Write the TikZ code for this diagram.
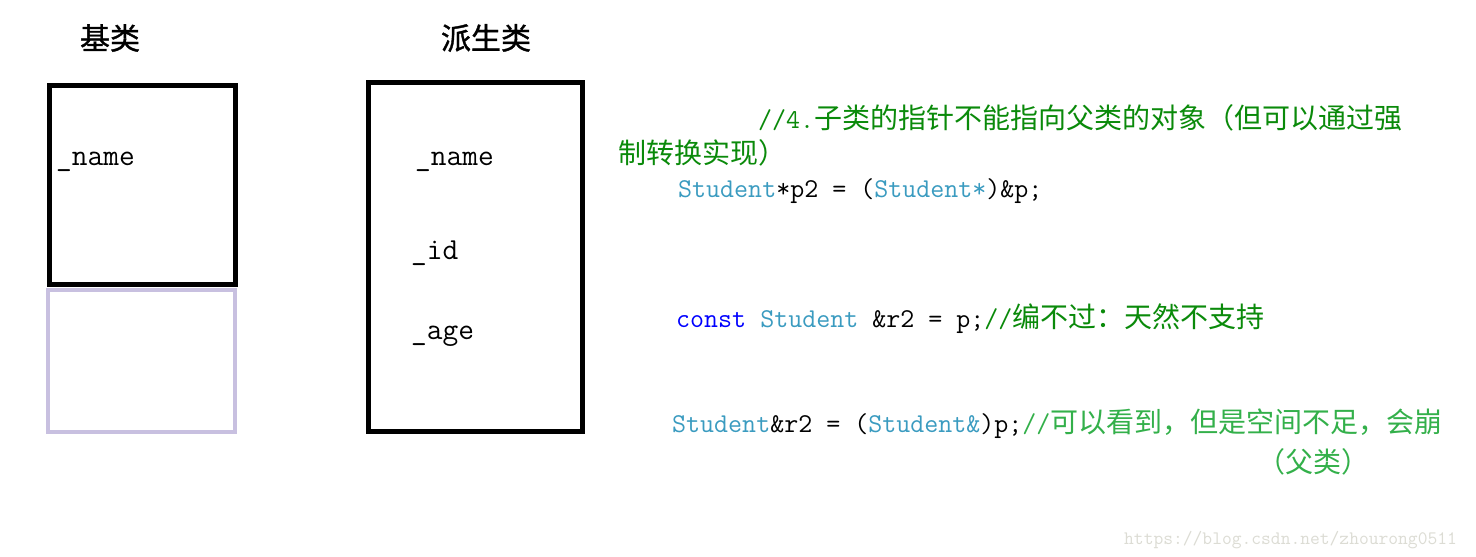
\documentclass[tikz,border=0pt]{standalone}
\usepackage{fontspec}
\newfontfamily\cjk{Noto Sans CJK SC}
\newfontfamily\cjkbold[FakeBold=1.2]{Noto Sans CJK SC}
\definecolor{cmtdark}{HTML}{0A8A0A}
\definecolor{cmtlight}{HTML}{33B04A}
\definecolor{cls}{HTML}{3A9BC0}
\definecolor{kw}{HTML}{0000FF}
\definecolor{lav}{HTML}{C8C0E0}
\definecolor{wm}{HTML}{DCDCD4}
\newcommand{\codef}{\ttfamily\fontsize{27.2}{30}\selectfont}
\newcommand{\zh}[1]{{\cjk\fontsize{28}{30}\selectfont #1}}
\begin{document}
\begin{tikzpicture}[x=1pt,y=-1pt,
  blackbox/.style={draw=black,line width=5pt},
  lavbox/.style={draw=lav,line width=4pt},
  head/.style={inner sep=0pt,anchor=center,font=\cjkbold\fontsize{30}{32}\selectfont},
  field/.style={inner sep=0pt,anchor=base west,font=\ttfamily\fontsize{30.5}{32}\selectfont},
  code/.style={inner sep=0pt,anchor=base west,font=\codef}]
\useasboundingbox[fill=white] (0,0) rectangle (1476,557);
% boxes
\draw[blackbox] (49.5,85.5) rectangle (235.5,284.5);
\draw[lavbox] (48,290) rectangle (235,432);
\draw[blackbox] (368.5,82.5) rectangle (582.5,431.5);
% headers
\node[head] (h1) at (110,38) {基类};
\node[head] (h2) at (486,38) {派生类};
% fields
\node[field] (f1) at (56,165) {\_name};
\node[field] (f2) at (415,165) {\_name};
\node[field] (f3) at (411,259) {\_id};
\node[field] (f4) at (411,339) {\_age};
% code
\node[code] (c1) at (758,128) {\color{cmtdark}//4.\zh{子类的指针不能指向父类的对象（但可以通过强}};
\node[code] (c2) at (618,163) {\color{cmtdark}\zh{制转换实现）}};
\node[code] (c3) at (678,197) {{\color{cls}Student}*p2 = ({\color{cls}Student*})\&p;};
\node[code] (c4) at (676,327) {{\color{kw}const} {\color{cls}Student} \&r2 = p;{\color{cmtdark}//\zh{编不过：天然不支持}}};
\node[code] (c5) at (672,432) {{\color{cls}Student}\&r2 = ({\color{cls}Student\&})p;{\color{cmtlight}//\zh{可以看到，但是空间不足，会崩}}};
\node[code] (c6) at (1257,472) {\color{cmtlight}\zh{（父类）}};
\node[inner sep=0pt,anchor=base west,font=\ttfamily\fontsize{19}{20}\selectfont,text=wm] (w) at (1124,544) {https://blog.csdn.net/zhourong0511};
\end{tikzpicture}
\end{document}
